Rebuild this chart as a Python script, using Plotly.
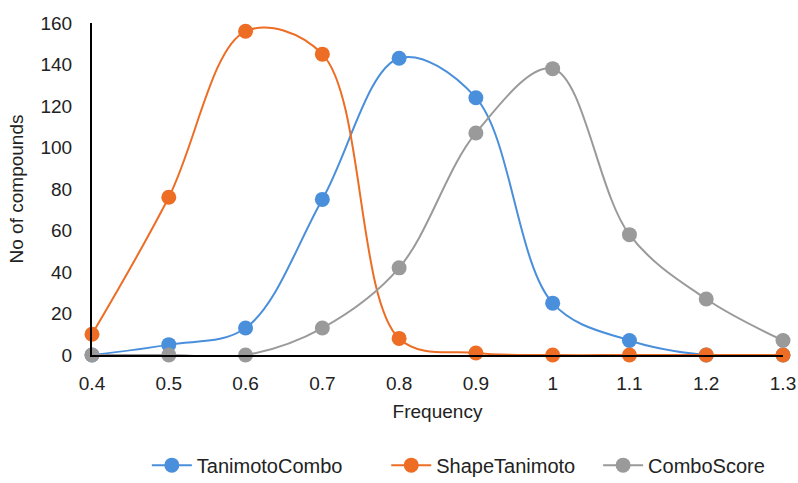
import plotly.graph_objects as go

freq = [0.4, 0.5, 0.6, 0.7, 0.8, 0.9, 1.0, 1.1, 1.2, 1.3]
tick_labels = ["0.4", "0.5", "0.6", "0.7", "0.8", "0.9", "1", "1.1", "1.2", "1.3"]
tanimoto_combo = [0, 5, 13, 75, 143, 124, 25, 7, 0, 0]
shape_tanimoto = [10, 76, 156, 145, 8, 1, 0, 0, 0, 0]
combo_score = [0, 0, 0, 13, 42, 107, 138, 58, 27, 7]

series = [
    ("TanimotoCombo", tanimoto_combo, "#4A8FDB", "legend", 0.184),
    ("ShapeTanimoto", shape_tanimoto, "#ED6D25", "legend2", 0.484),
    ("ComboScore", combo_score, "#9A9A9A", "legend3", 0.7495),
]

fig = go.Figure()
legend_cfg = {}
for name, vals, color, lg, lx in series:
    fig.add_trace(go.Scatter(
        x=freq, y=vals, name=name, mode="lines+markers",
        line=dict(color=color, width=2, shape="spline", smoothing=1.0),
        marker=dict(color=color, size=15),
        cliponaxis=False, legend=lg,
    ))
    legend_cfg[lg] = dict(orientation="h", xref="container", yref="container",
                          x=lx, xanchor="left", y=0.037, yanchor="middle",
                          font=dict(size=20), itemwidth=40,
                          bgcolor="rgba(0,0,0,0)")

fig.update_layout(
    width=798, height=483,
    margin=dict(l=92, r=15, t=23, b=128, autoexpand=False),
    paper_bgcolor="white", plot_bgcolor="white",
    font=dict(family="Liberation Sans, Arial, sans-serif", size=19, color="#222"),
    showlegend=True,
    xaxis=dict(
        range=[0.4, 1.3], tickmode="array", tickvals=freq, ticktext=tick_labels,
        showgrid=False, zeroline=False, showline=True, linecolor="black", linewidth=2,
        ticks="outside", ticklen=10, tickcolor="rgba(0,0,0,0)", automargin=False,
        title=dict(text="Frequency", standoff=12, font=dict(size=19)),
        tickfont=dict(size=19),
    ),
    yaxis=dict(
        range=[0, 160], dtick=20, showgrid=False, zeroline=False,
        showline=True, linecolor="black", linewidth=2,
        ticks="outside", ticklen=14, tickcolor="rgba(0,0,0,0)", automargin=False,
        title=dict(text="No of compounds", standoff=12, font=dict(size=19)),
        tickfont=dict(size=19),
    ),
    **legend_cfg,
)

fig.write_html(
    "out.html",
    config={"displayModeBar": False},
    post_script="document.body.style.margin='0';document.body.style.overflow='hidden';",
)
